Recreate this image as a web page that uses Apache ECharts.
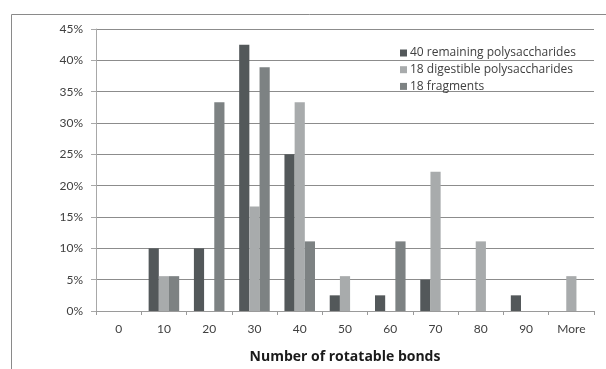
<!DOCTYPE html>
<html>
<head>
<meta charset="utf-8">
<script src="https://cdn.jsdelivr.net/npm/echarts@6/dist/echarts.min.js"></script>
<style>html,body{margin:0;padding:0;background:#fff;}#c{width:606px;height:369px;}</style>
</head>
<body>
<div id="c"></div>
<script>
var categories = ['0', '10', '20', '30', '40', '50', '60', '70', '80', '90', 'More'];
var remaining = [0, 10, 10, 42.5, 25, 2.5, 2.5, 5, 0, 2.5, 0];
var digestible = [0, 5.56, 0, 16.67, 33.33, 5.56, 0, 22.22, 11.11, 0, 5.56];
var fragments = [0, 5.56, 33.33, 38.89, 11.11, 0, 11.11, 0, 0, 0, 0];
var seriesNames = ['40 remaining polysaccharides', '18 digestible polysaccharides', '18 fragments'];
var colors = ['#53585a', '#a8abac', '#7d8283'];

var chart = echarts.init(document.getElementById('c'), null, {renderer: 'canvas'});
var font = 'Lato, "Open Sans", sans-serif';
var font2 = '"Open Sans", Lato, sans-serif';
chart.setOption({
  animation: false,
  backgroundColor: '#fff',
  color: colors,
  textStyle: {fontFamily: font},
  graphic: [{
    type: 'rect', left: 9, top: 12, silent: true, z: -1,
    shape: {width: 620, height: 380},
    style: {fill: 'none', stroke: '#8a8a8a', lineWidth: 1}
  }],
  grid: {left: 96, right: 12, top: 29, bottom: 56, containLabel: false},
  legend: {
    orient: 'vertical', left: 400, top: 46, padding: 0,
    itemWidth: 7, itemHeight: 7, itemGap: 2.7, icon: 'rect',
    textStyle: {fontFamily: font2, fontSize: 12, color: '#404040', lineHeight: 14, padding: [0, 0, 0, -2]},
    data: seriesNames
  },
  xAxis: {
    type: 'category', data: categories,
    name: 'Number of rotatable bonds', nameLocation: 'middle', nameGap: 39,
    nameTextStyle: {fontFamily: font2, fontSize: 14, fontWeight: 'bold', color: '#1a1a1a'},
    axisLine: {lineStyle: {color: '#9a9a9a', width: 1}},
    axisTick: {show: true, interval: 0, length: 4, lineStyle: {color: '#9a9a9a'}},
    axisLabel: {interval: 0, fontSize: 12, color: '#404040', margin: 12}
  },
  yAxis: {
    type: 'value', min: 0, max: 45, interval: 5,
    axisLine: {show: true, lineStyle: {color: '#a8a8a8'}},
    axisTick: {show: true, length: 5, lineStyle: {color: '#a8a8a8'}},
    axisLabel: {formatter: '{value}%', fontSize: 12, color: '#404040', margin: 13},
    splitLine: {lineStyle: {color: '#8c8c8c', width: 1}}
  },
  series: [
    {name: seriesNames[0], type: 'bar', data: remaining, barGap: '0%', barCategoryGap: '32.5%', itemStyle: {color: colors[0]}},
    {name: seriesNames[1], type: 'bar', data: digestible, barGap: '0%', barCategoryGap: '32.5%', itemStyle: {color: colors[1]}},
    {name: seriesNames[2], type: 'bar', data: fragments, barGap: '0%', barCategoryGap: '32.5%', itemStyle: {color: colors[2]}}
  ]
});
</script>
</body>
</html>
